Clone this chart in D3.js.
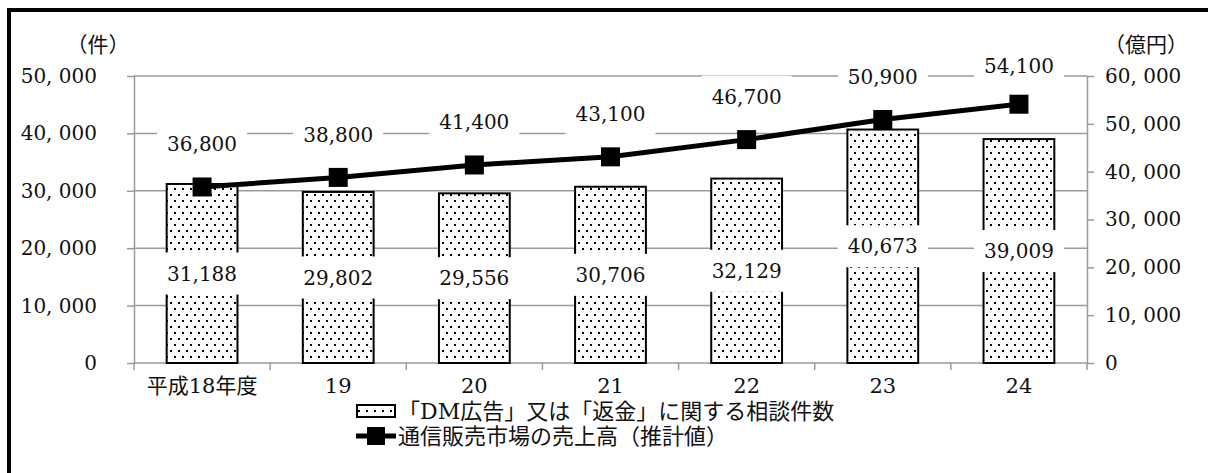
<!DOCTYPE html>
<html>
<head>
<meta charset="utf-8">
<script src="https://cdn.jsdelivr.net/npm/d3@7"></script>
<style>
  body { margin: 0; background: #fff; }
  svg { display: block; }
  .num { font-family: "DejaVu Serif", "Noto Sans CJK JP", serif; font-size: 20px; fill: #111; }
  .jp { font-family: "DejaVu Serif", "Noto Sans CJK JP", serif; font-size: 21px; fill: #111; }
</style>
</head>
<body>
<div id="chart"></div>
<script>
// data
var categories = ["平成18年度", "19", "20", "21", "22", "23", "24"];
var consultations = [31188, 29802, 29556, 30706, 32129, 40673, 39009];   // 件
var sales = [36800, 38800, 41400, 43100, 46700, 50900, 54100];           // 億円
var leftTicks = [0, 10000, 20000, 30000, 40000, 50000];
var rightTicks = [0, 10000, 20000, 30000, 40000, 50000, 60000];
var barName = "「DM広告」又は「返金」に関する相談件数";
var lineName = "通信販売市場の売上高（推計値）";

var width = 1208, height = 473;
var plotL = 134, plotR = 1087, plotT = 76, plotB = 363;

var svg = d3.select("#chart").append("svg")
    .attr("width", width)
    .attr("height", height);

var defs = svg.append("defs");
var pat = defs.append("pattern")
    .attr("id", "dots")
    .attr("patternUnits", "userSpaceOnUse")
    .attr("width", 8).attr("height", 12);
pat.append("rect").attr("width", 8).attr("height", 12).attr("fill", "#fff");
pat.append("rect").attr("x", 2).attr("y", 2).attr("width", 2).attr("height", 2).attr("fill", "#000");
pat.append("rect").attr("x", 6).attr("y", 8).attr("width", 2).attr("height", 2).attr("fill", "#000");

// title, mostly cut off above the frame
svg.append("text")
    .attr("class", "jp")
    .attr("x", 604).attr("y", -4)
    .attr("text-anchor", "middle")
    .style("font-size", "22px")
    .style("fill", "#666")
    .text("図表　「DM広告」又は「返金」に関する相談件数と通信販売市場の売上高の推移");

// frame
svg.append("rect")
    .attr("x", 9).attr("y", 10)
    .attr("width", 1210).attr("height", 480)
    .attr("fill", "none")
    .attr("stroke", "#000")
    .attr("stroke-width", 4);

var x = d3.scaleBand().domain(categories).range([plotL, plotR]).paddingInner(0.48).paddingOuter(0.24);
var yL = d3.scaleLinear().domain([0, 50000]).range([plotB, plotT]);
var yR = d3.scaleLinear().domain([0, 60000]).range([plotB, plotT]);
var fmt = function (d) { return d3.format(",")(d).replace(",", ", "); };

// gridlines
svg.append("g").selectAll("line")
    .data(leftTicks.filter(function (d) { return d > 0; }))
    .enter().append("line")
    .attr("x1", plotL).attr("x2", plotR)
    .attr("y1", function (d) { return yL(d); })
    .attr("y2", function (d) { return yL(d); })
    .attr("stroke", "#9a9a9a")
    .attr("stroke-width", 1.5);

// axes
var gL = svg.append("g").attr("transform", "translate(" + plotL + ",0)")
    .call(d3.axisLeft(yL).tickValues(leftTicks).tickFormat(fmt).tickSize(7).tickSizeOuter(0).tickPadding(30));
var gR = svg.append("g").attr("transform", "translate(" + plotR + ",0)")
    .call(d3.axisRight(yR).tickValues(rightTicks).tickFormat(fmt).tickSize(7).tickSizeOuter(0).tickPadding(11));
var gX = svg.append("g").attr("transform", "translate(0," + plotB + ")")
    .call(d3.axisBottom(x).tickSize(0).tickPadding(15));
[gL, gR, gX].forEach(function (g) {
    g.selectAll("path, line").attr("stroke", "#9a9a9a").attr("stroke-width", 1.5);
    g.selectAll("text").attr("class", "num").attr("fill", null);
});
gX.selectAll("text").attr("class", "jp");
gX.select(".domain").remove();
svg.append("line")
    .attr("x1", plotL).attr("x2", plotR).attr("y1", plotB).attr("y2", plotB)
    .attr("stroke", "#9a9a9a").attr("stroke-width", 1.5);
var bounds = categories.map(function (c) { return x(c) - x.step() * x.paddingInner() / 2; });
bounds.push(plotR);
svg.append("g").selectAll("line")
    .data(bounds).enter().append("line")
    .attr("x1", function (d) { return d; }).attr("x2", function (d) { return d; })
    .attr("y1", plotB).attr("y2", plotB + 7)
    .attr("stroke", "#9a9a9a").attr("stroke-width", 1.5);

// units
svg.append("text").attr("class", "jp").attr("x", 98).attr("y", 52).attr("text-anchor", "middle").text("（件）");
svg.append("text").attr("class", "jp").attr("x", 1146).attr("y", 52).attr("text-anchor", "middle").text("（億円）");

// bars
svg.append("g").selectAll("rect")
    .data(consultations).enter().append("rect")
    .attr("x", function (d, i) { return x(categories[i]); })
    .attr("y", function (d) { return yL(d); })
    .attr("width", x.bandwidth())
    .attr("height", function (d) { return plotB - yL(d); })
    .attr("fill", "url(#dots)")
    .attr("stroke", "#000")
    .attr("stroke-width", 2);

function boxedLabel(g, cx, cy, txt) {
    var t = g.append("text").attr("class", "num")
        .attr("x", cx).attr("y", cy).attr("dy", "0.36em")
        .attr("text-anchor", "middle").text(txt);
    var b = t.node().getBBox();
    g.insert("rect", "text")
        .attr("x", b.x - 10).attr("y", cy - 21)
        .attr("width", b.width + 20).attr("height", 42)
        .attr("fill", "#fff");
}

// bar labels (centre of bar)
var barLabels = svg.append("g");
consultations.forEach(function (d, i) {
    var g = barLabels.append("g");
    boxedLabel(g, x(categories[i]) + x.bandwidth() / 2, (yL(d) + yL(0)) / 2, d3.format(",")(d));
});

// line labels (above point)
var lineLabels = svg.append("g");
sales.forEach(function (d, i) {
    var g = lineLabels.append("g");
    boxedLabel(g, x(categories[i]) + x.bandwidth() / 2, Math.max(yR(d) - 43, 66), d3.format(",")(d));
});

// line + markers
var line = d3.line()
    .x(function (d, i) { return x(categories[i]) + x.bandwidth() / 2; })
    .y(function (d) { return yR(d); });
svg.append("path").datum(sales)
    .attr("d", line)
    .attr("fill", "none")
    .attr("stroke", "#000")
    .attr("stroke-width", 5);
svg.append("g").selectAll("rect")
    .data(sales).enter().append("rect")
    .attr("x", function (d, i) { return x(categories[i]) + x.bandwidth() / 2 - 9.5; })
    .attr("y", function (d) { return yR(d) - 9.5; })
    .attr("width", 19).attr("height", 19)
    .attr("fill", "#000");

// legend
var lg = svg.append("g").attr("transform", "translate(356,0)");
lg.append("rect").attr("x", 1).attr("y", 405).attr("width", 38).attr("height", 12)
    .attr("fill", "url(#dots)").attr("stroke", "#000").attr("stroke-width", 2);
lg.append("text").attr("class", "jp").attr("x", 42).attr("y", 411).attr("dy", "0.36em")
    .style("font-size", "22px").text(barName);
lg.append("line").attr("x1", 0).attr("x2", 40).attr("y1", 436).attr("y2", 436)
    .attr("stroke", "#000").attr("stroke-width", 5);
lg.append("rect").attr("x", 11).attr("y", 427).attr("width", 18).attr("height", 18).attr("fill", "#000");
lg.append("text").attr("class", "jp").attr("x", 42).attr("y", 436).attr("dy", "0.36em")
    .style("font-size", "22px").text(lineName);
</script>
</body>
</html>
